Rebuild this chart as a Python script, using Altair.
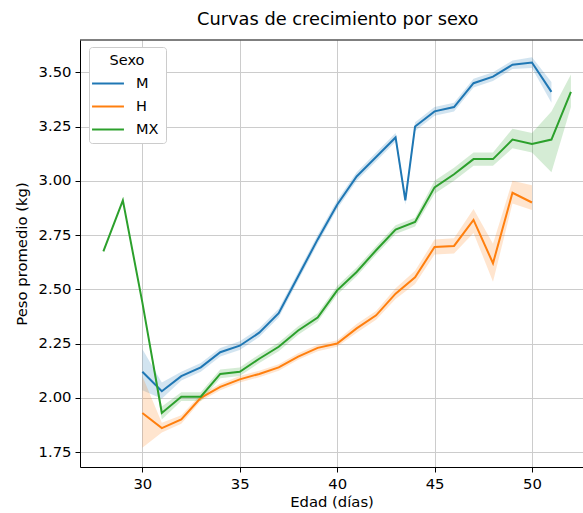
import altair as alt
import pandas as pd

# --- data ---
edad_m = [30, 31, 32, 33, 34, 35, 36, 37, 38, 39, 40, 41, 42, 43, 43.5, 44, 45, 46, 47, 48, 49, 50, 51]
peso_m = [2.12, 2.03, 2.10, 2.14, 2.21, 2.24, 2.30, 2.39, 2.56, 2.73, 2.89, 3.02, 3.11, 3.20, 2.91, 3.25, 3.32, 3.34, 3.45, 3.48, 3.535, 3.545, 3.41]
lo_m = [2.035, 1.995, 2.08, 2.12, 2.19, 2.22, 2.28, 2.37, 2.54, 2.71, 2.87, 3.00, 3.09, 3.18, 2.89, 3.23, 3.30, 3.32, 3.43, 3.46, 3.515, 3.52, 3.36]
hi_m = [2.225, 2.07, 2.12, 2.16, 2.23, 2.26, 2.32, 2.41, 2.58, 2.75, 2.91, 3.04, 3.13, 3.22, 2.93, 3.27, 3.34, 3.36, 3.47, 3.50, 3.555, 3.57, 3.455]

edad_h = [30, 31, 32, 33, 34, 35, 36, 37, 38, 39, 40, 41, 42, 43, 44, 45, 46, 47, 48, 49, 50]
peso_h = [1.93, 1.86, 1.90, 2.00, 2.05, 2.085, 2.11, 2.14, 2.19, 2.23, 2.25, 2.32, 2.38, 2.48, 2.555, 2.695, 2.70, 2.82, 2.62, 2.945, 2.90]
lo_h = [1.77, 1.84, 1.88, 1.985, 2.035, 2.07, 2.095, 2.125, 2.175, 2.215, 2.235, 2.30, 2.36, 2.455, 2.525, 2.66, 2.665, 2.76, 2.535, 2.895, 2.865]
hi_h = [2.10, 1.885, 1.92, 2.015, 2.065, 2.10, 2.125, 2.155, 2.205, 2.245, 2.265, 2.34, 2.40, 2.505, 2.585, 2.73, 2.735, 2.87, 2.71, 3.00, 2.98]

edad_mx = [28, 29, 30, 31, 32, 33, 34, 35, 36, 37, 38, 39, 40, 41, 42, 43, 44, 45, 46, 47, 48, 49, 50, 51, 52]
peso_mx = [2.675, 2.91, 2.44, 1.93, 2.005, 2.005, 2.11, 2.12, 2.18, 2.235, 2.31, 2.37, 2.495, 2.58, 2.68, 2.775, 2.81, 2.97, 3.03, 3.10, 3.10, 3.19, 3.17, 3.19, 3.41]
lo_mx = [2.675, 2.91, 2.44, 1.90, 1.985, 1.985, 2.09, 2.10, 2.16, 2.215, 2.29, 2.35, 2.475, 2.56, 2.66, 2.755, 2.79, 2.94, 3.00, 3.07, 3.07, 3.15, 3.13, 3.04, 3.34]
hi_mx = [2.675, 2.91, 2.44, 1.96, 2.025, 2.025, 2.13, 2.14, 2.20, 2.255, 2.33, 2.39, 2.515, 2.60, 2.70, 2.795, 2.83, 3.00, 3.06, 3.13, 3.13, 3.24, 3.22, 3.32, 3.49]

sexos = ["M", "H", "MX"]
colores = ["#1f77b4", "#ff7f0e", "#2ca02c"]

frames = []
for s, e, p, lo, hi in [("M", edad_m, peso_m, lo_m, hi_m),
                        ("H", edad_h, peso_h, lo_h, hi_h),
                        ("MX", edad_mx, peso_mx, lo_mx, hi_mx)]:
    frames.append(pd.DataFrame({"edad": e, "peso": p, "lo": lo, "hi": hi, "sexo": s}))
df = pd.concat(frames, ignore_index=True)

FONT = "DejaVu Sans"
W, H = 503, 427
x_scale = alt.Scale(domain=[26.8, 52.62], nice=False, zero=False)
y_scale = alt.Scale(domain=[1.681, 3.649], nice=False, zero=False)
color_scale = alt.Scale(domain=sexos, range=colores)

legend = alt.Legend(title="Sexo", orient="none", legendX=9, legendY=7,
                    strokeColor="#cccccc", fillColor="white", cornerRadius=3,
                    padding=7, titleAnchor="middle", titleFontSize=14.5,
                    titleFontWeight="normal", titleFont=FONT, titleColor="#000",
                    titlePadding=3,
                    labelFont=FONT, labelFontSize=14.5, labelColor="#000",
                    symbolType="M-1.45,0H1.45", symbolSize=484, symbolOpacity=1,
                    symbolStrokeWidth=2, rowPadding=4, labelOffset=16)
color_enc = alt.Color("sexo:N", scale=color_scale, sort=sexos, legend=legend)

base = alt.Chart(df)

bands = base.mark_area(opacity=0.2).encode(
    x=alt.X("edad:Q", scale=x_scale),
    y=alt.Y("lo:Q", scale=y_scale),
    y2="hi:Q",
    color=color_enc,
    detail="sexo:N",
)

lines = base.mark_line(strokeWidth=2).encode(
    x=alt.X("edad:Q", scale=x_scale,
            axis=alt.Axis(title="Edad (días)", values=[30, 35, 40, 45, 50], format="d")),
    y=alt.Y("peso:Q", scale=y_scale,
            axis=alt.Axis(title="Peso promedio (kg)",
                          values=[1.75, 2.0, 2.25, 2.5, 2.75, 3.0, 3.25, 3.5], format=".2f")),
    color=color_enc,
    detail="sexo:N",
)

# top spine (the right spine falls outside the cropped picture)
top_spine = alt.Chart(pd.DataFrame({"k": [0]})).mark_rule(color="#000", strokeWidth=1).encode(
    x=alt.value(0), x2=alt.value(W), y=alt.value(0)
)

chart = (bands + lines + top_spine).properties(
    width=W, height=H,
    title=alt.TitleParams("Curvas de crecimiento por sexo", font=FONT, fontSize=17.8,
                          fontWeight="normal", color="#000", anchor="start", dx=183, offset=11),
    autosize=alt.AutoSizeParams(type="none"),
    padding={"left": 80, "top": 40, "right": 0, "bottom": 46},
).configure_view(
    stroke=None
).configure_axis(
    grid=True, gridColor="#cccccc", gridWidth=1,
    domain=True, domainColor="#000", domainWidth=1,
    tickColor="#000", tickSize=5, tickWidth=1,
    labelFont=FONT, labelFontSize=14.8, labelColor="#000", labelPadding=4,
    titleFont=FONT, titleFontSize=14.8, titleFontWeight="normal", titleColor="#000",
).configure_axisY(titlePadding=9).configure_axisX(titlePadding=4)

chart.save("out.html", embed_options={"renderer": "svg", "actions": False})
